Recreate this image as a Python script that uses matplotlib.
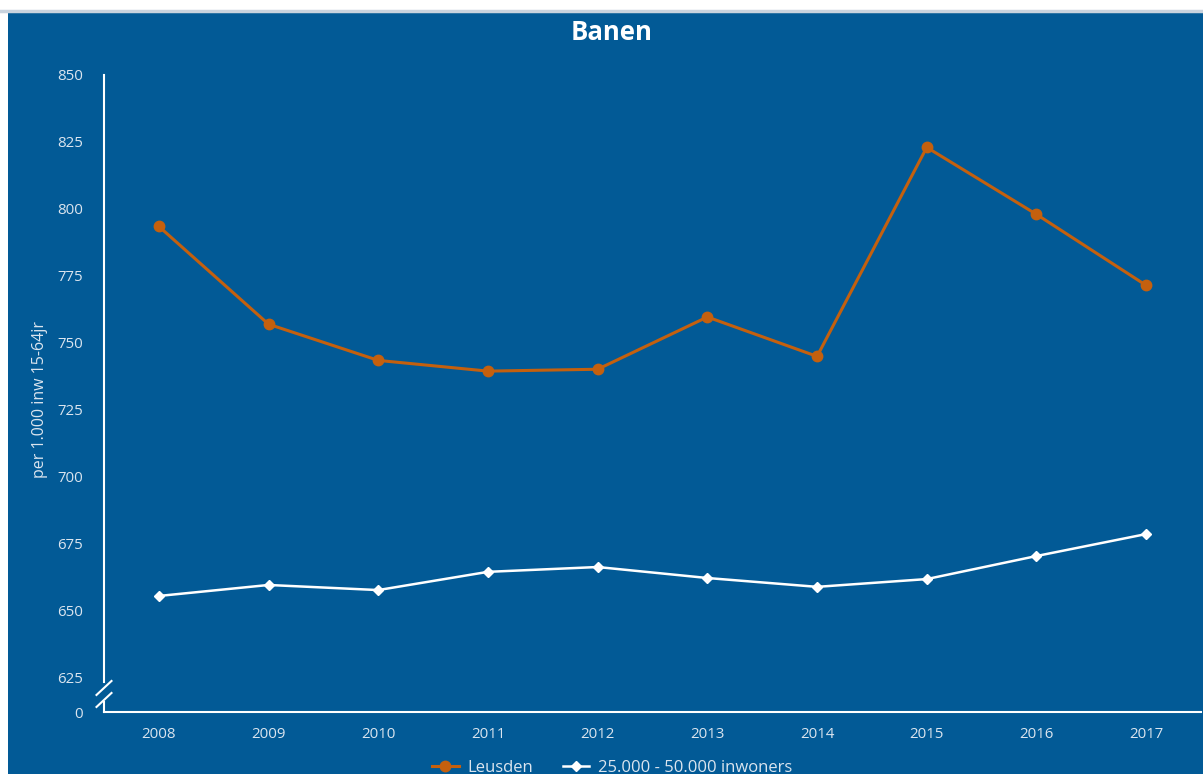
import matplotlib
matplotlib.use("Agg")
import matplotlib.pyplot as plt
from matplotlib.patches import Rectangle
from matplotlib.lines import Line2D

years = ["2008", "2009", "2010", "2011", "2012", "2013", "2014", "2015", "2016", "2017"]
leusden = [793.5, 757, 743.5, 739.5, 740.2, 759.7, 745, 823, 798, 771.5]
reference = [655.6, 659.7, 657.8, 664.6, 666.4, 662.3, 659, 661.9, 670.5, 678.7]
ytick_values = [625, 650, 675, 700, 725, 750, 775, 800, 825, 850]
zero_pos = 612.3

BLUE = "#025a96"
ORANGE = "#c4600e"
TXT = "#dbe5ef"

plt.rcParams["font.family"] = ["Open Sans", "DejaVu Sans"]

fig = plt.figure(figsize=(12.03, 7.74), dpi=100, facecolor="white")
fig.patches.append(Rectangle((8 / 1203, 0), 1, (774 - 13) / 774, transform=fig.transFigure,
                             facecolor=BLUE, edgecolor="none", zorder=-5))
fig.lines.append(Line2D([0, 1], [1 - 11 / 774, 1 - 11 / 774], transform=fig.transFigure,
                        color="#c9d3de", lw=2.5, zorder=-4))

ax = fig.add_axes([104 / 1203, 1 - 712 / 774, (1201 - 104) / 1203, (712 - 75) / 774])
ax.set_facecolor("none")
ax.set_zorder(1)

x = list(range(len(years)))
ax.plot(x, leusden, color=ORANGE, lw=2.2, marker="o", markersize=7.5, label="Leusden", zorder=3)
ax.plot(x, reference, color="white", lw=1.8, marker="D", markersize=5, label="25.000 - 50.000 inwoners", zorder=3)

ax.set_xlim(-0.5, len(years) - 0.5)
ax.set_ylim(zero_pos, 850)
ax.set_xticks(x)
ax.set_xticklabels(years)
ax.set_yticks([zero_pos] + ytick_values)
ax.set_yticklabels(["0"] + [str(v) for v in ytick_values])
ax.tick_params(axis="both", length=0, colors=TXT, labelsize=10.8)
ax.tick_params(axis="y", pad=15)
ax.tick_params(axis="x", pad=11)

for s in ["top", "right", "left"]:
    ax.spines[s].set_visible(False)
ax.spines["bottom"].set_color("white")
ax.spines["bottom"].set_linewidth(1.5)

# left axis line with break
ax.plot([-0.5, -0.5], [623.6, 850], color="white", lw=1.5, clip_on=False, zorder=4)
ax.plot([-0.5, -0.5], [zero_pos, 616.0], color="white", lw=1.5, clip_on=False, zorder=4)
dx = 7.5 / 109.6
for yc in [(695 + 681) / 2, (707 + 693) / 2]:
    yv = 850 - (yc - 75) / 2.68
    dy = 7 / 2.68
    ax.plot([-0.5 - dx, -0.5 + dx], [yv - dy, yv + dy], color="white", lw=1.5, clip_on=False, zorder=4)

ax.set_ylabel("per 1.000 inw 15-64jr", color=TXT, fontsize=11.5)
ax.yaxis.set_label_coords((48 - 104) / 1097, (712 - 400) / 637)

fig.text(612 / 1203, 1 - 32 / 774, "Banen", ha="center", va="center", color="white",
         fontsize=18.5, fontweight="bold")

leg = fig.legend(loc="center", bbox_to_anchor=(612 / 1203, 1 - 768 / 774), ncol=2, frameon=False,
                 fontsize=12, labelcolor=TXT, handlelength=1.6, columnspacing=1.8, handletextpad=0.5)

fig.savefig("out.png", dpi=100, facecolor="white")
